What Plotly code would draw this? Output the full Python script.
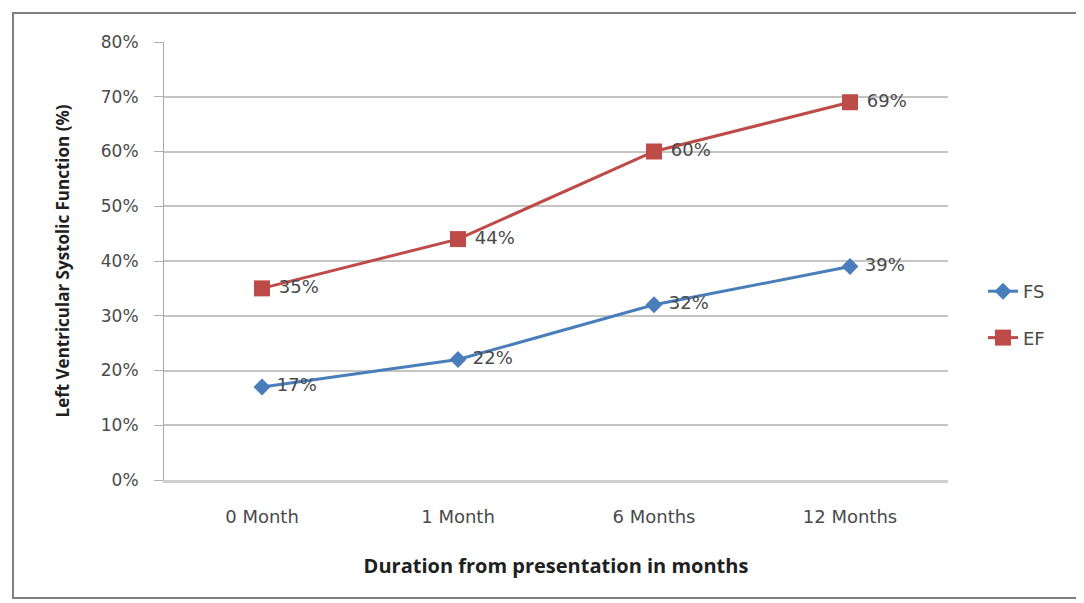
import plotly.graph_objects as go

categories = ["0 Month", "1 Month", "6 Months", "12 Months"]
fs_values = [17, 22, 32, 39]
ef_values = [35, 44, 60, 69]
y_ticks = [0, 10, 20, 30, 40, 50, 60, 70, 80]
y_tick_labels = [f"{v}%" for v in y_ticks]

# page has an 8px body margin, so figure is 1076x595
W, H = 1076, 595
L, R, T, B = 156, 136, 34, 123
pw, ph = W - L - R, H - T - B

font_fam = "DejaVu Sans, sans-serif"
title_fam = "Open Sans, sans-serif"
txt_col = "#4a4a4a"

fig = go.Figure()
fig.add_trace(go.Scatter(
    x=categories, y=fs_values, name="FS", mode="lines+markers+text",
    legendgroup="fs",
    line=dict(color="#4a7ebb", width=3),
    marker=dict(symbol="diamond", size=13, color="#4a7ebb"),
    text=[f" {v}%" for v in fs_values], textposition="middle right",
    textfont=dict(size=18, color=txt_col, family=font_fam),
))
fig.add_trace(go.Scatter(
    x=categories, y=ef_values, name="EF", mode="lines+markers+text",
    legendgroup="ef",
    line=dict(color="#be4b48", width=3),
    marker=dict(symbol="square", size=16, color="#be4b48"),
    text=[f" {v}%" for v in ef_values], textposition="middle right",
    textfont=dict(size=18, color=txt_col, family=font_fam),
))

def px(x):
    return (x - L) / pw

def py(y):
    return (H - B - y) / ph

fig.add_shape(type="rect", xref="paper", yref="paper",
              x0=px(5), x1=px(1074), y0=py(5), y1=py(590),
              line=dict(color="#808080", width=2), layer="below")

fig.update_layout(
    width=W, height=H,
    margin=dict(l=L, r=R, t=T, b=B),
    paper_bgcolor="white", plot_bgcolor="white",
    font=dict(family=font_fam, color=txt_col, size=18),
    showlegend=True,
    legend=dict(x=px(975), y=py(265), xanchor="left", yanchor="top",
                font=dict(size=18, family=font_fam), traceorder="grouped",
                tracegroupgap=20),
    xaxis=dict(
        type="category", range=[-0.5, 3.5],
        showline=True, linecolor="#cfcfcf", linewidth=3,
        ticks="", ticklabelstandoff=18,
        showgrid=False, tickfont=dict(size=18, color=txt_col),
        title=dict(text="<b>Duration from presentation in months</b>",
                   font=dict(size=20, color="#202020", family=title_fam),
                   standoff=34),
    ),
    yaxis=dict(
        range=[0, 80], tickvals=y_ticks, ticktext=y_tick_labels,
        showline=True, linecolor="#a8a8a8", linewidth=1,
        ticks="outside", ticklen=9, tickcolor="#b0b0b0",
        ticklabelstandoff=12,
        showgrid=True, gridcolor="#c4c4c4", gridwidth=1.5,
        tickfont=dict(size=17, color=txt_col),
        title=dict(text="<b>Left Ventricular Systolic Function (%)</b>",
                   font=dict(size=17, color="#202020", family=title_fam),
                   standoff=26),
    ),
)

fig.write_html("out.html")
